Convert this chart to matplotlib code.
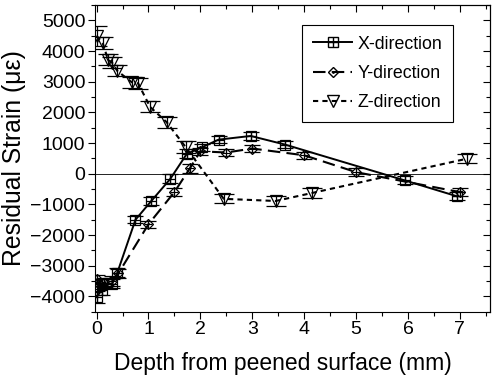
import matplotlib
matplotlib.use("Agg")
import matplotlib.pyplot as plt
from matplotlib.lines import Line2D
from matplotlib.ticker import MultipleLocator

plt.rcParams['font.family'] = ['Liberation Sans', 'DejaVu Sans']

# ─── data ───
x_depth = [0.0, 0.1, 0.2, 0.3, 0.4, 0.75, 1.05, 1.42, 1.74, 2.03, 2.35, 2.97, 3.63, 5.94, 6.95]
x_strain = [-4020, -3800, -3580, -3590, -3230, -1500, -900, -170, 650, 860, 1110, 1230, 950, -220, -740]
x_err = [200, 150, 150, 150, 150, 120, 130, 150, 150, 120, 120, 120, 120, 130, 130]

y_depth = [0.0, 0.05, 0.15, 0.3, 0.42, 1.0, 1.5, 1.8, 2.0, 2.5, 3.0, 4.0, 5.0, 7.0]
y_strain = [-3450, -3600, -3550, -3500, -3250, -1650, -600, 180, 730, 690, 820, 600, 50, -600]
y_err = [150, 150, 150, 150, 150, 120, 130, 150, 120, 120, 120, 120, 130, 130]

z_depth = [0.0, 0.12, 0.22, 0.3, 0.4, 0.68, 0.8, 1.03, 1.35, 1.72, 2.45, 3.45, 4.15, 7.14]
z_strain = [4500, 4250, 3720, 3620, 3350, 2980, 2950, 2180, 1680, 860, -820, -890, -630, 490]
z_err = [330, 200, 180, 180, 180, 180, 180, 180, 180, 200, 150, 150, 150, 150]

labels = ['X-direction', 'Y-direction', 'Z-direction']

fig = plt.figure(figsize=(4.92, 3.78), dpi=100)
ax = fig.add_axes([95 / 492, 1 - 311.7 / 378, 395 / 492, 306.7 / 378])

ax.axhline(0, color='k', lw=0.6, zorder=1)

# X-direction: solid, boxed plus
ax.errorbar(x_depth, x_strain, yerr=x_err, fmt='s', mfc='none', mec='k', ms=6.5,
            mew=0.9, ecolor='k', elinewidth=0.9, capsize=6, capthick=0.9,
            ls='-', color='k', lw=1.4, zorder=3)
ax.plot(x_depth, x_strain, '+', color='k', ms=6.5, mew=0.9, ls='none', zorder=4)

# Y-direction: long dashes, diamond
ax.errorbar(y_depth, y_strain, yerr=y_err, fmt='D', mfc='none', mec='k', ms=5.5,
            mew=0.9, ecolor='k', elinewidth=0.9, capsize=6, capthick=0.9,
            ls=(0, (6, 3)), color='k', lw=1.5, zorder=3)
ax.plot(y_depth, y_strain, '+', color='k', ms=5.5, mew=0.8, ls='none', zorder=4)

# Z-direction: short dashes, open down triangle
ax.errorbar(z_depth, z_strain, yerr=z_err, fmt='v', mfc='none', mec='k', ms=8,
            mew=0.9, ecolor='k', elinewidth=0.9, capsize=7, capthick=0.9,
            ls=(0, (2.5, 2)), color='k', lw=1.5, zorder=3)

ax.set_xlim(-0.03, 7.58)
ax.set_ylim(-4500, 5500)
ax.xaxis.set_major_locator(MultipleLocator(1))
ax.xaxis.set_minor_locator(MultipleLocator(0.5))
ax.yaxis.set_major_locator(MultipleLocator(1000))
ax.yaxis.set_minor_locator(MultipleLocator(500))
ax.set_xticks(range(0, 8))

ax.tick_params(which='both', direction='out', top=False, right=False, labelsize=14, pad=2)
ax.tick_params(which='major', length=5, width=0.8)
ax.tick_params(which='minor', length=3, width=0.8)

# mirrored inner ticks on top/right
sec_x = ax.secondary_xaxis('top')
sec_x.xaxis.set_major_locator(MultipleLocator(1))
sec_x.xaxis.set_minor_locator(MultipleLocator(0.5))
sec_x.tick_params(which='major', direction='in', length=5, width=0.8)
sec_x.tick_params(which='minor', direction='in', length=3, width=0.8)
sec_x.set_xticklabels([])
sec_y = ax.secondary_yaxis('right')
sec_y.yaxis.set_major_locator(MultipleLocator(1000))
sec_y.yaxis.set_minor_locator(MultipleLocator(500))
sec_y.tick_params(which='major', direction='in', length=5, width=0.8)
sec_y.tick_params(which='minor', direction='in', length=3, width=0.8)
sec_y.set_yticklabels([])

for s in ax.spines.values():
    s.set_linewidth(0.8)

ax.set_xlabel('Depth from peened surface (mm)', fontsize=16.5, labelpad=10, x=0.475)
ax.set_ylabel('Residual Strain (\u03bc\u03b5)', fontsize=17.8, labelpad=3)

# legend
h_x = (Line2D([], [], color='k', lw=1.4), Line2D([], [], marker='s', mfc='none', mec='k', ms=6.5, ls='none'),
       Line2D([], [], marker='+', color='k', ms=6.5, ls='none'))
h_y = (Line2D([], [], color='k', lw=1.5, ls=(0, (6, 3))), Line2D([], [], marker='D', mfc='none', mec='k', ms=5.5, ls='none'),
       Line2D([], [], marker='.', color='k', ms=2, ls='none'))
h_z = (Line2D([], [], color='k', lw=1.5, ls=(0, (2.5, 2))), Line2D([], [], marker='v', mfc='none', mec='k', ms=8, ls='none'))
leg = ax.legend([h_x, h_y, h_z], labels, loc='upper right', bbox_to_anchor=(0.906, 0.935),
                borderaxespad=0, fontsize=12.8, frameon=True, fancybox=False, edgecolor='k',
                framealpha=1, handlelength=2.2, handletextpad=0.3, labelspacing=0.7, borderpad=0.6)
leg.get_frame().set_linewidth(0.8)

fig.savefig('out.png', dpi=100)
